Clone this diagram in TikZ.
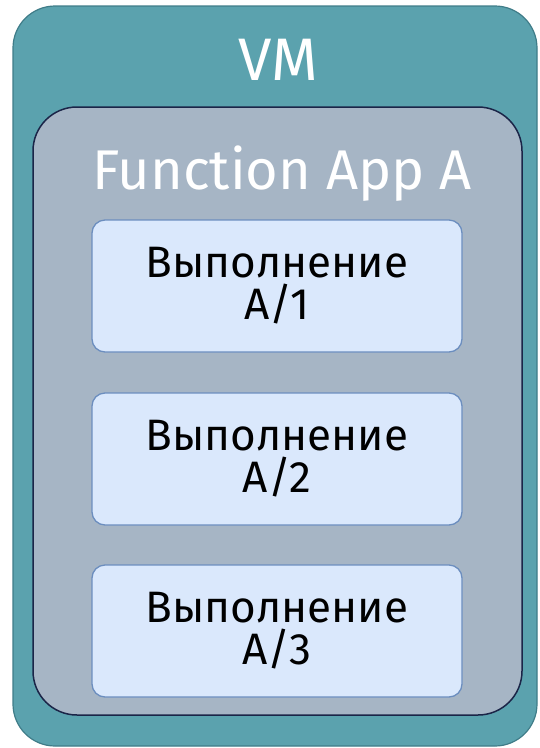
\documentclass[tikz,border=0pt]{standalone}
\usepackage{fontspec}
\setmainfont{Fira Sans}

\definecolor{vmteal}{HTML}{5BA2AE}
\definecolor{vmedge}{HTML}{3F7C88}
\definecolor{appgrey}{HTML}{A6B5C5}
\definecolor{appedge}{HTML}{1B2548}
\definecolor{execfill}{HTML}{DAE8FC}
\definecolor{execedge}{HTML}{6C8EBF}

\begin{document}
\begin{tikzpicture}[x=1pt, y=-1pt,
  vmbox/.style={draw=vmedge, fill=vmteal, line width=1.2pt, rounded corners=42pt,
    minimum width=524pt, minimum height=740pt, inner sep=0pt},
  appbox/.style={draw=appedge, fill=appgrey, line width=1.5pt, rounded corners=44pt,
    minimum width=489pt, minimum height=608pt, inner sep=0pt},
  execbox/.style={draw=execedge, fill=execfill, line width=1.3pt, rounded corners=13pt,
    minimum width=370pt, minimum height=132pt, inner sep=0pt},
  boxtitle/.style={text=white, font=\fontsize{60}{60}\selectfont, inner sep=0pt},
  exectext/.style={text=black, align=center, font=\fontsize{44}{42}\selectfont, inner sep=0pt}]

\useasboundingbox (0,0) rectangle (540,748);

% VM with the function app inside
\node[vmbox] (vm) at (275,376) {};
\node[boxtitle, anchor=base] (vmtitle) at (278,80) {VM};

\node[appbox] (app) at (277.5,411) {};
\node[boxtitle, font=\fontsize{56}{56}\selectfont, anchor=base] (apptitle) at (282,189) {Function App A};

% executions
\foreach \i/\y in {1/286, 2/459, 3/631} {
  \node[execbox] (exec\i) at (277,\y) {};
  \node[exectext] (exec\i text) at (277,\y) {Выполнение\\A/\i};
}

\end{tikzpicture}
\end{document}
